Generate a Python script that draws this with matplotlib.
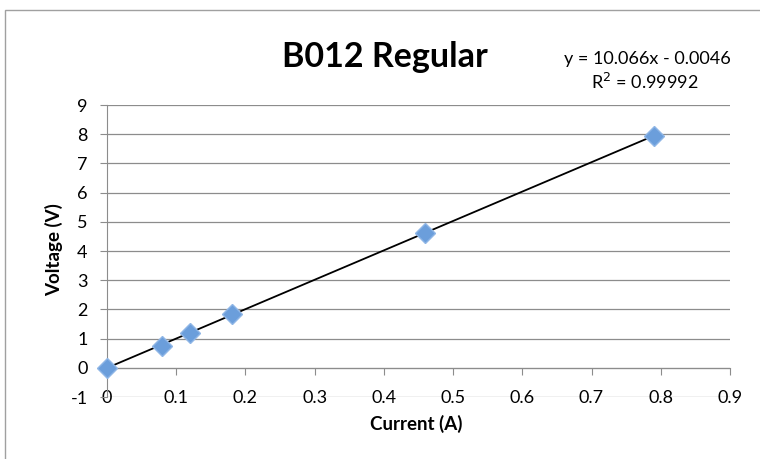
import numpy as np
import matplotlib
matplotlib.use("Agg")
import matplotlib.pyplot as plt
from matplotlib.patches import Rectangle

plt.rcParams["font.family"] = ["Lato", "DejaVu Sans"]

# data
current = [0.0, 0.08, 0.12, 0.18, 0.46, 0.79]
voltage = [0.0, 0.75, 1.2, 1.85, 4.6, 7.95]
slope = 10.066
intercept = -0.0046
r2 = 0.99992
x_ticks = [0, 0.1, 0.2, 0.3, 0.4, 0.5, 0.6, 0.7, 0.8, 0.9]
y_ticks = [-1, 0, 1, 2, 3, 4, 5, 6, 7, 8, 9]

fig = plt.figure(figsize=(7.6, 4.59), dpi=100)
ax = fig.add_axes([107 / 760, 62 / 459, 623 / 760, 292 / 459])

# chart area border (partly cropped in the reference)
fig.patches.append(Rectangle((5 / 760, -0.1), 1.2, (449 / 459) + 0.1,
                             transform=fig.transFigure, fill=False,
                             edgecolor="#a0a0a0", linewidth=1.0))

# gridlines
for yv in y_ticks:
    ax.axhline(yv, color="#8c8c8c", linewidth=0.9, zorder=0)

# trend line
xs = np.array([current[0], current[-1]])
ax.plot(xs, slope * xs + intercept, color="black", linewidth=1.3, zorder=2)

# data markers
ax.plot(current, voltage, linestyle="none", marker="D", markersize=10,
        markerfacecolor="#6b9edb", markeredgecolor="#8fb6e6",
        markeredgewidth=1.0, zorder=3, clip_on=False)

ax.set_xlim(0, 0.9)
ax.set_ylim(-1, 9)
ax.set_xticks(x_ticks)
ax.set_xticklabels([f"{v:g}" for v in x_ticks])
ax.set_yticks(y_ticks)
ax.set_yticklabels([str(v) for v in y_ticks])

for s in ["top", "right"]:
    ax.spines[s].set_visible(False)
ax.spines["bottom"].set_position(("data", 0))
ax.spines["bottom"].set_color("#8c8c8c")
ax.spines["left"].set_color("#8c8c8c")
ax.tick_params(axis="x", direction="out", length=5, color="#8c8c8c",
               pad=11, labelsize=13)
ax.tick_params(axis="y", direction="out", length=5, color="#8c8c8c",
               pad=9, labelsize=13)

ax.set_xlabel("Current (A)", fontsize=13.5, fontweight="bold")
ax.xaxis.set_label_coords(416 / 623 - 107 / 623, -(424 - 397) / 292)
ax.xaxis.label.set_va("center")
ax.set_ylabel("Voltage (V)", fontsize=13.5, fontweight="bold")
ax.yaxis.set_label_coords(-(107 - 54) / 623, (397 - 250) / 292)
ax.yaxis.label.set_va("center")

fig.text(385 / 760, 1 - 57 / 459, "B012 Regular", fontsize=24.5,
         fontweight="bold", ha="center", va="center")
fig.text(647 / 760, 1 - 59 / 459, f"y = {slope}x - {abs(intercept)}",
         fontsize=13, ha="center", va="center")
fig.text(645 / 760, 1 - 82 / 459, f"R$^2$ = {r2}",
         fontsize=13, ha="center", va="center")

fig.savefig("out.png", dpi=100)
